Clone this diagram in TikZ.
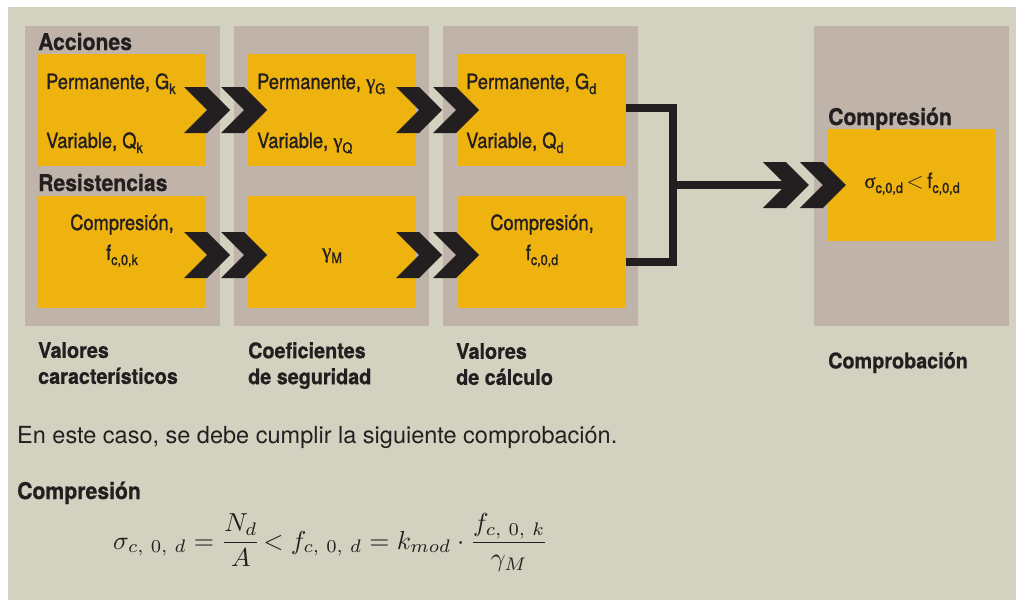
\documentclass[tikz,border=0pt]{standalone}
\usepackage{amsmath}
\usepackage{graphicx}
\usepackage{fontspec}
\setmainfont{TeX Gyre Heros}
\newfontfamily\condfont[FakeStretch=0.87, FakeBold=1.2]{TeX Gyre Heros}
\newfontfamily\headfont[FakeStretch=0.92, FakeBold=0.8]{TeX Gyre Heros}
\newfontfamily\grkfont[FakeBold=0.8]{Liberation Serif}
\usetikzlibrary{positioning, shapes.symbols}
\definecolor{Sand}  {HTML}{D3D1BF}
\definecolor{Taupe} {HTML}{C0B3A9}
\definecolor{Amber} {HTML}{EFB310}
\definecolor{Ink}   {HTML}{231F20}
\newcommand{\lo}[1]{\raisebox{-5pt}{\fontsize{14.5}{14.5}\selectfont #1}}
\newcommand{\gr}[1]{{\grkfont #1}}

\begin{document}
\begin{tikzpicture}[
  x = 1pt, y = -1pt,
  column/.style = {fill=Taupe, minimum width=195pt, minimum height=300pt, inner sep=0pt},
  ybox/.style   = {fill=Amber, minimum width=168pt, minimum height=112pt, inner sep=0pt},
  chev/.style   = {shape=signal, signal from=west, signal to=east, signal pointer angle=90,
                   fill=Ink, minimum width=42pt, minimum height=46pt, inner sep=0pt},
  head/.style   = {font=\headfont\bfseries\fontsize{23}{26}\selectfont, text=Ink,
                   inner sep=0pt, anchor=base west},
  lbl/.style    = {font=\condfont\fontsize{21}{24}\selectfont, text=Ink,
                   inner sep=0pt, anchor=base west},
  foot/.style   = {font=\headfont\bfseries\fontsize{21.5}{26}\selectfont, text=Ink,
                   inner sep=0pt, anchor=north west, align=left},
  body/.style   = {font=\fontsize{23.5}{26}\selectfont, text=Ink, inner sep=0pt, anchor=base west},
  link/.style   = {draw=Ink, line width=7.7pt},
]
\useasboundingbox (0,0) rectangle (1016,600);
\fill[white] (0,0) rectangle (1016,600);
\fill[Sand]  (8,7) rectangle (1016,600);

% columns
\node[column] (colA) at (122.5,176) {};
\node[column] (colB) at (331.5,176) {};
\node[column] (colC) at (540.5,176) {};
\node[column] (colD) at (911.5,176) {};

% yellow boxes
\node[ybox] (pA) at (122,110) {};
\node[ybox] (qA) at (122,252) {};
\node[ybox] (pB) at (332,110) {};
\node[ybox] (qB) at (332,252) {};
\node[ybox] (pC) at (542,110) {};
\node[ybox] (qC) at (542,252) {};
\node[ybox] (pD) at (912,185) {};

% joining lines
\coordinate (jn) at (673,185);
\draw[link] ([yshift=2pt]pC.east) -| (jn) |- ([yshift=-10pt]qC.east);

% chevrons
\node[chev] (chA1) at ([xshift=1pt]pA.east) {};
\node[chev] (chA2) at ([xshift=37pt]chA1.center) {};
\node[chev] (chA3) at ([xshift=3pt]pB.east) {};
\node[chev] (chA4) at ([xshift=37pt]chA3.center) {};
\node[chev] (chB1) at ([xshift=1pt,yshift=-3pt]qA.east) {};
\node[chev] (chB2) at ([xshift=37pt]chB1.center) {};
\node[chev] (chB3) at ([xshift=3pt,yshift=-3pt]qB.east) {};
\node[chev] (chB4) at ([xshift=37pt]chB3.center) {};
\node[chev] (chC2) at ([xshift=-5pt]pD.west) {};
\node[chev] (chC1) at ([xshift=-37pt]chC2.center) {};
\draw[link] (jn) -- (chC1.center);

% headings
\node[head] (tAcc) at (38,50)   {Acciones};
\node[head] (tRes) at (38,191)  {Resistencias};
\node[head] (tCmp) at (828,125) {Compresión};

% box texts
\node[lbl] (lPA) at (46,89)   {Permanente, G\lo{k}};
\node[lbl] (lVA) at (46,148)  {Variable, Q\lo{k}};
\node[lbl] (lPB) at (257,89)  {Permanente, \gr{γ}\lo{G}};
\node[lbl] (lVB) at (257,148) {Variable, \gr{γ}\lo{Q}};
\node[lbl] (lPC) at (466,89)  {Permanente, G\lo{d}};
\node[lbl] (lVC) at (466,148) {Variable, Q\lo{d}};
\node[lbl, anchor=base] (lCA1) at (122,230) {Compresión,};
\node[lbl, anchor=base] (lCA2) at (122,260) {f\lo{c,0,k}};
\node[lbl, anchor=base] (lM)   at (332,258) {\gr{γ}\lo{M}};
\node[lbl, anchor=base] (lCC1) at (542,230) {Compresión,};
\node[lbl, anchor=base] (lCC2) at (542,260) {f\lo{c,0,d}};
\node[lbl, anchor=base] (lChk) at (912,188) {\gr{σ}\lo{c,0,d}\,\scalebox{1.1}{$<$}\,f\lo{c,0,d}};

% column captions
\node[foot] (fA) at (38,342)  {Valores\\característicos};
\node[foot] (fB) at (248,342) {Coeficientes\\de seguridad};
\node[foot] (fC) at (456,343) {Valores\\de cálculo};
\node[foot] (fD) at (828,352) {Comprobación};

% note and formula
\node[body] (note) at (17,443) {En este caso, se debe cumplir la siguiente comprobación.};
\node[head] (tCmp2) at (17,499) {Compresión};
\node[anchor=base west, inner sep=0pt, text=Ink] (eq) at (113,549)
  {\scalebox{2.6}{$\displaystyle \sigma_{c,\ 0,\ d} = \frac{N_d}{A}\! < f_{c,\ 0,\ d}
   = k_{mod}\cdot\frac{f_{c,\ 0,\ k}}{\gamma_M}$}};
\end{tikzpicture}
\end{document}
